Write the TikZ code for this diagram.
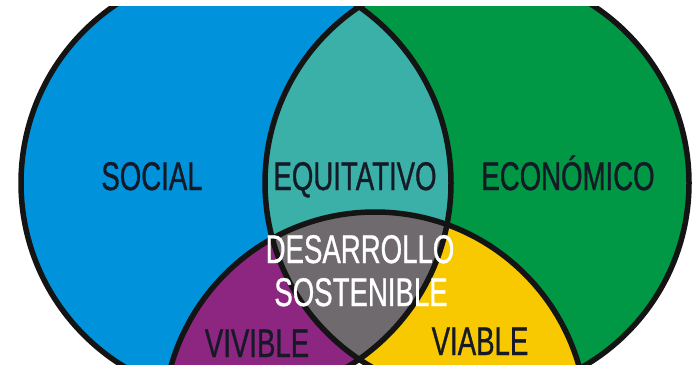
\documentclass[tikz,border=0pt]{standalone}
\usepackage{fontspec}
\setmainfont{Liberation Sans}[FakeStretch=0.69,FakeBold=0.8]
\definecolor{socialblue}{RGB}{0,147,220}
\definecolor{ecogreen}{RGB}{0,152,68}
\definecolor{equiteal}{RGB}{58,176,168}
\definecolor{sosgray}{RGB}{110,106,110}
\definecolor{vivpurple}{RGB}{140,38,128}
\definecolor{viayellow}{RGB}{248,200,0}
\definecolor{inkdark}{RGB}{22,26,38}
\tikzset{
    ring/.style={draw=black!92, line width=5.5pt},
    word/.style={anchor=base, inner sep=0pt, text=inkdark,
        font=\fontsize{40}{43}\selectfont},
}
\begin{document}
\begin{tikzpicture}[x=1pt,y=-1pt]
        \useasboundingbox (0,0) rectangle (692,364);
        \clip (0,6) rectangle (692,364);

        \coordinate (cs) at (236,183);
        \coordinate (ce) at (477,183);
        \coordinate (cv) at (375,424);

        % the two big circles
        \fill[socialblue] (cs) circle[radius=215pt];
        \fill[ecogreen] (ce) circle[radius=212pt];

        % viable = economico and bottom circle
        \begin{scope}
            \clip (ce) circle[radius=212pt];
            \fill[viayellow] (cv) circle[radius=212pt];
        \end{scope}

        % equitativo, vivible, desarrollo sostenible
        \begin{scope}
            \clip (cs) circle[radius=215pt];
            \fill[equiteal] (ce) circle[radius=212pt];
            \fill[vivpurple] (cv) circle[radius=212pt];
            \clip (ce) circle[radius=212pt];
            \fill[sosgray] (cv) circle[radius=212pt];
        \end{scope}

        \foreach \c/\r in {cs/215,ce/212,cv/212}
        {
            \draw[ring] (\c) circle[radius=\r pt];
        }

        \node[word] (soc) at (152,190) {SOCIAL};
        \node[word] (equi) at (355,190) {EQUITATIVO};
        \node[word] (econ) at (568,190) {ECONÓMICO};
        \node[word, text=white] (desa) at (360,263) {DESARROLLO};
        \node[word, text=white] (sost) at (361,306) {SOSTENIBLE};
        \node[word] (viv) at (257,357) {VIVIBLE};
        \node[word] (via) at (480,355) {VIABLE};
\end{tikzpicture}
\end{document}
